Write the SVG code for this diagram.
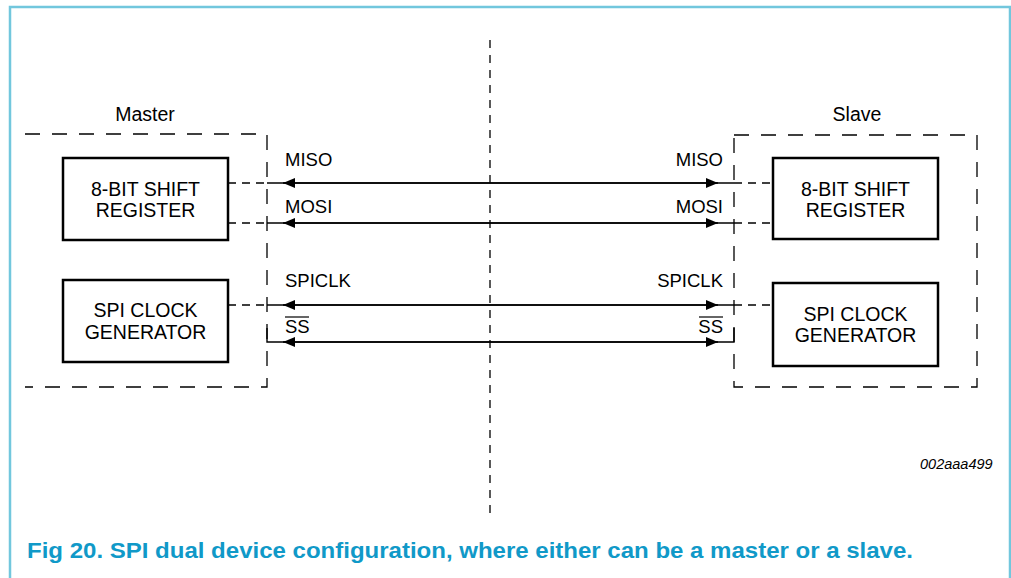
<svg xmlns="http://www.w3.org/2000/svg" width="1011" height="578" viewBox="0 0 1011 578">
<style>
.frame{fill:none;stroke:#72c7dd;stroke-width:2.5}
.grp{fill:none;stroke:#000;stroke-width:1.3;stroke-dasharray:15 12}
.ctr{fill:none;stroke:#000;stroke-width:1.3;stroke-dasharray:8 7}
.box{fill:#fff;stroke:#000;stroke-width:2.5}
.sig{fill:none;stroke:#000;stroke-width:1.4}
.stub{fill:none;stroke:#000;stroke-width:1.4;stroke-dasharray:8 6}
text{font-family:"Liberation Sans",Arial,sans-serif;fill:#000}
.bt{font-size:19.5px;text-anchor:middle}
.lb{font-size:18.5px}
.cap{font-size:22px;font-weight:bold;fill:#1099c8}
</style>
<defs>
<marker id="ah" viewBox="0 0 12 10" refX="12" refY="5" markerWidth="12" markerHeight="10" markerUnits="userSpaceOnUse" orient="auto-start-reverse">
<path d="M0,0 L12,5 L0,10 z" fill="#000"/>
</marker>
</defs>
<path class="frame" d="M10,578 V7 H1010 V578"/>
<line class="ctr" x1="490" y1="40" x2="490" y2="516"/>
<g id="master">
<path class="grp" d="M25,134 H267 V387 H25"/>
<text class="bt" x="145" y="121">Master</text>
</g>
<g id="slave">
<rect class="grp" x="734" y="135" width="243" height="252"/>
<text class="bt" x="857" y="121">Slave</text>
</g>
<g id="connectors">
<line class="stub" x1="228" y1="183" x2="267" y2="183"/>
<line class="stub" x1="228" y1="223" x2="267" y2="223"/>
<line class="stub" x1="228" y1="305" x2="267" y2="305"/>
<line class="stub" x1="734" y1="183" x2="773" y2="183"/>
<line class="stub" x1="734" y1="223" x2="773" y2="223"/>
<line class="stub" x1="734" y1="305" x2="773" y2="305"/>
<line class="sig" x1="267" y1="183" x2="734" y2="183"/>
<line class="sig" x1="267" y1="223" x2="734" y2="223"/>
<line class="sig" x1="267" y1="305" x2="734" y2="305"/>
<path class="sig" d="M267,328 V342 H734 V328"/>
<line class="sig" x1="283" y1="183" x2="718" y2="183" marker-start="url(#ah)" marker-end="url(#ah)"/>
<line class="sig" x1="283" y1="223" x2="718" y2="223" marker-start="url(#ah)" marker-end="url(#ah)"/>
<line class="sig" x1="283" y1="305" x2="718" y2="305" marker-start="url(#ah)" marker-end="url(#ah)"/>
<line class="sig" x1="283" y1="342" x2="718" y2="342" marker-start="url(#ah)" marker-end="url(#ah)"/>
<text class="lb" x="285" y="166">MISO</text>
<text class="lb" x="285" y="213">MOSI</text>
<text class="lb" x="285" y="287">SPICLK</text>
<text class="lb" x="285" y="333">SS</text>
<line x1="285" y1="317" x2="309" y2="317" stroke="#000" stroke-width="1.2"/>
<text class="lb" x="723" y="166" text-anchor="end">MISO</text>
<text class="lb" x="723" y="213" text-anchor="end">MOSI</text>
<text class="lb" x="723" y="287" text-anchor="end">SPICLK</text>
<text class="lb" x="723" y="333" text-anchor="end">SS</text>
<line x1="699" y1="317" x2="723" y2="317" stroke="#000" stroke-width="1.2"/>
</g>
<g id="m_shift">
<rect class="box" x="63" y="158" width="165" height="82"/>
<text class="bt" x="145.5" y="196">8-BIT SHIFT</text>
<text class="bt" x="145.5" y="217">REGISTER</text>
</g>
<g id="m_clock">
<rect class="box" x="63" y="280" width="165" height="82"/>
<text class="bt" x="145.5" y="317">SPI CLOCK</text>
<text class="bt" x="145.5" y="339">GENERATOR</text>
</g>
<g id="s_shift">
<rect class="box" x="773" y="158" width="165" height="81"/>
<text class="bt" x="855.5" y="196">8-BIT SHIFT</text>
<text class="bt" x="855.5" y="217">REGISTER</text>
</g>
<g id="s_clock">
<rect class="box" x="773" y="283" width="165" height="83"/>
<text class="bt" x="855.5" y="321">SPI CLOCK</text>
<text class="bt" x="855.5" y="342">GENERATOR</text>
</g>
<text x="920" y="469" font-size="14.5" font-style="italic" fill="#000" style="font-family:'Liberation Sans',Arial,sans-serif">002aaa499</text>
<text class="cap" x="27" y="558" textLength="886" lengthAdjust="spacingAndGlyphs">Fig 20. SPI dual device configuration, where either can be a master or a slave.</text>
</svg>
